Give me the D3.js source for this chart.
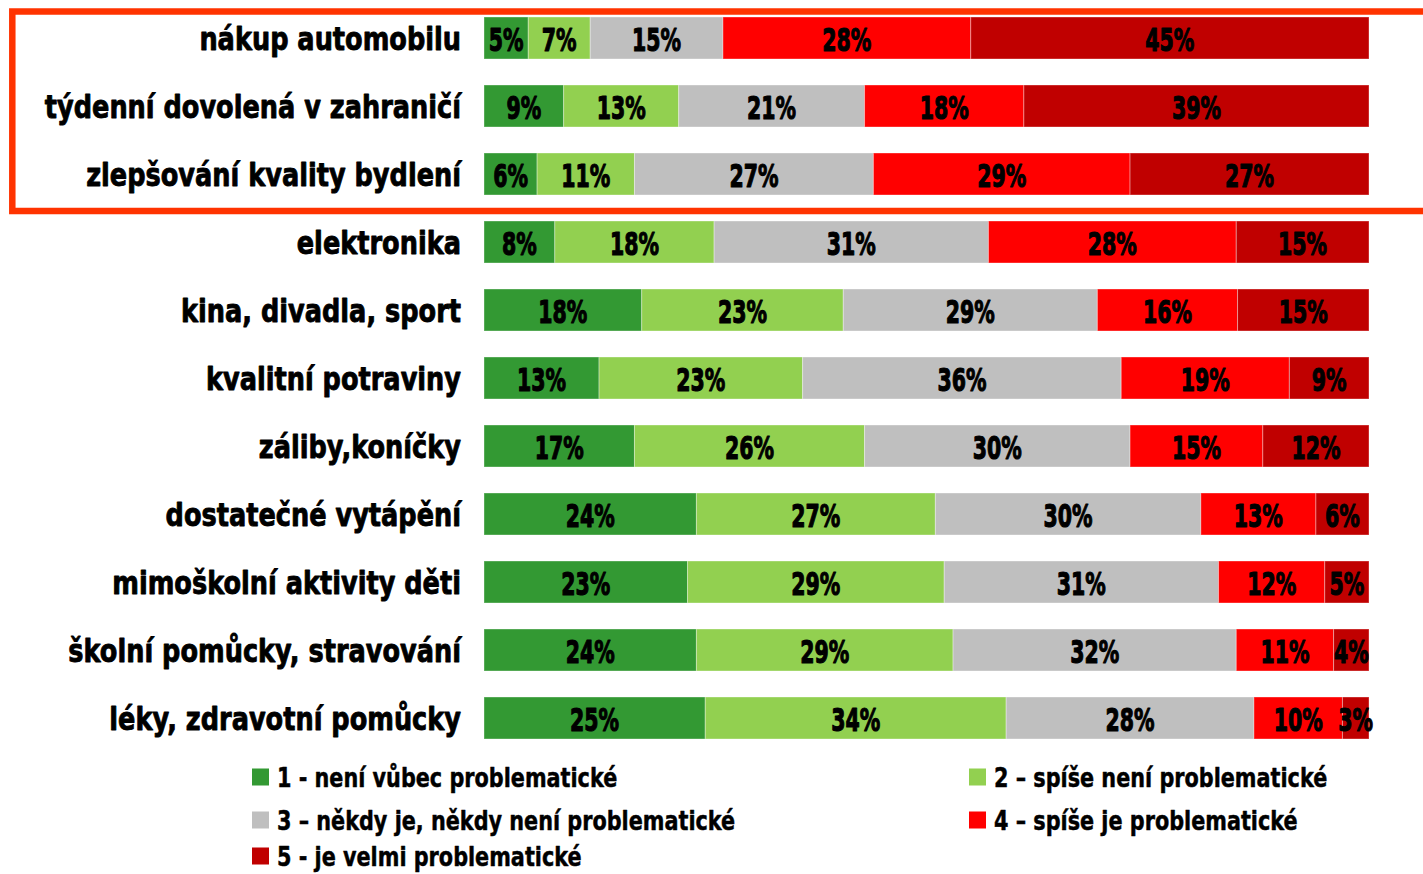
<!DOCTYPE html>
<html><head><meta charset="utf-8">
<script src="https://cdn.jsdelivr.net/npm/d3@7/dist/d3.min.js"></script>
<style>
html,body{margin:0;padding:0;background:#fff;}
svg{display:block;}
text{font-family:"DejaVu Sans",sans-serif;font-weight:bold;fill:#000;stroke-linejoin:round;}
</style></head>
<body>
<svg id="chart" width="1423" height="874"></svg>
<script>
const categories = [
  "nákup automobilu",
  "týdenní dovolená v zahraničí",
  "zlepšování kvality bydlení",
  "elektronika",
  "kina, divadla, sport",
  "kvalitní potraviny",
  "záliby,koníčky",
  "dostatečné vytápění",
  "mimoškolní aktivity děti",
  "školní pomůcky, stravování",
  "léky, zdravotní pomůcky"
];
const seriesNames = [
  "1 - není vůbec problematické",
  "2 – spíše není problematické",
  "3 – někdy je, někdy není problematické",
  "4 – spíše je problematické",
  "5 - je velmi problematické"
];
const s1 = [5, 9, 6, 8, 18, 13, 17, 24, 23, 24, 25];
const s2 = [7, 13, 11, 18, 23, 23, 26, 27, 29, 29, 34];
const s3 = [15, 21, 27, 31, 29, 36, 30, 30, 31, 32, 28];
const s4 = [28, 18, 29, 28, 16, 19, 15, 13, 12, 11, 10];
const s5 = [45, 39, 27, 15, 15, 9, 12, 6, 5, 4, 3];
const series = [s1, s2, s3, s4, s5];
const colors = ["#339933", "#92D050", "#BFBFBF", "#FF0000", "#C00000"];
const highlightRows = 3;

const svg = d3.select("#chart");
const xLeft = 484, xRight = 1369, barH = 42;
const y = d3.scalePoint().domain(categories).range([38, 718]);

// highlight box
const hb0 = y(categories[0]) - barH/2, hb1 = y(categories[highlightRows-1]) + barH/2;
svg.append("rect")
  .attr("x", 12.3).attr("y", hb0 - 5.5)
  .attr("width", 1440).attr("height", (hb1 - hb0) + 21.5)
  .attr("fill", "none").attr("stroke", "#FF3300").attr("stroke-width", 6.5);

const labScale = 0.8, pctScale = 0.64;

categories.forEach((cat, i) => {
  const vals = series.map(s => s[i]);
  const total = d3.sum(vals);
  const x = d3.scaleLinear().domain([0, total]).range([xLeft, xRight]);
  const cy = y(cat);
  let acc = 0;
  const g = svg.append("g");
  vals.forEach((v, k) => {
    const x0 = x(acc), x1 = x(acc + v);
    acc += v;
    g.append("rect")
      .attr("x", x0).attr("y", cy - barH/2)
      .attr("width", x1 - x0).attr("height", barH)
      .attr("fill", colors[k])
      .attr("stroke", "rgba(255,255,255,0.35)").attr("stroke-width", 1);
    g.append("text")
      .attr("transform", `translate(${(x0+x1)/2},${cy + 13}) scale(${pctScale},1)`)
      .attr("text-anchor", "middle")
      .attr("font-size", 32)
      .attr("stroke", "#000").attr("stroke-width", 1.2)
      .text(v + "%");
  });
  svg.append("text")
    .attr("transform", `translate(461,${cy + 12}) scale(${labScale},1)`)
    .attr("text-anchor", "end")
    .attr("font-size", 32)
    .attr("stroke", "#000").attr("stroke-width", 0.9)
    .text(cat);
});

// legend
const legPos = [[252, 777], [969, 777], [252, 820], [969, 820], [252, 856]];
seriesNames.forEach((name, k) => {
  const [lx, ly] = legPos[k];
  svg.append("rect").attr("x", lx).attr("y", ly - 8.5).attr("width", 17).attr("height", 17)
    .attr("fill", colors[k]);
  svg.append("text")
    .attr("transform", `translate(${lx + 25},${ly + 10}) scale(0.77,1)`)
    .attr("font-size", 27)
    .attr("stroke", "#000").attr("stroke-width", 0.5)
    .text(name);
});
</script>
</body></html>
